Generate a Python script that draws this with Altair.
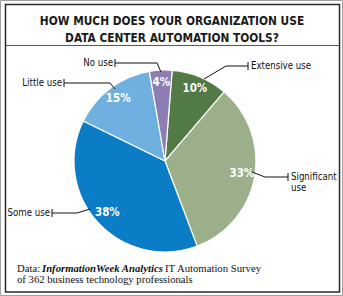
import math
import altair as alt
import pandas as pd

# ---- data ----
categories = ["Extensive use", "Significant use", "Some use", "Little use", "No use"]
values = [10, 33, 38, 15, 4]
pct_labels = ["10%", "33%", "38%", "15%", "4%"]
colors = ["#527a47", "#9caf8b", "#0a7dc6", "#70b0e0", "#8d7db3"]

title_lines = ["HOW MUCH DOES YOUR ORGANIZATION USE", "DATA CENTER AUTOMATION TOOLS?"]
footer_parts = ["Data: ", "InformationWeek Analytics", " IT Automation Survey"]
footer_line2 = "of 362 business technology professionals"

# ---- layout (annotation positions, pixels) ----
W, H = 343, 296
CX, CY, R = 165, 161, 91
OFFSET = math.radians(4.5)
SANS = "'DejaVu Sans Condensed', 'Liberation Sans Narrow', Roboto, sans-serif"
SERIF = "'Liberation Serif', serif"

df = pd.DataFrame({"category": categories, "value": values,
                   "label": pct_labels, "order": list(range(len(values)))})
one = pd.DataFrame({"k": [0]})

ext_labels = pd.DataFrame({
    "text": ["Extensive use", "Significant\nuse", "Some use", "Little use", "No use"],
    "x": [251, 291, 50, 62, 113],
    "y": [66, 177, 213, 83, 63],
    "align": ["left", "left", "right", "right", "right"],
})
leaders = pd.DataFrame({
    "cat": ["E", "E", "E", "S", "S", "S", "M", "M", "M", "L", "L", "L", "N", "N", "N"],
    "i":   [0, 1, 2] * 5,
    "x":   [248, 226, 204, 288, 265, 252, 52, 77, 90, 64, 110, 115, 115, 157, 161],
    "y":   [66, 66, 79, 177, 177, 172, 213, 213, 209, 83, 83, 89, 63, 63, 72],
})
ticks = pd.DataFrame({"x": [248, 288, 52, 64, 115], "y": [62, 173, 209, 79, 59],
                      "y2": [70, 181, 217, 87, 67]})

xs = alt.Scale(domain=[0, W], range=[0, W])
ys = alt.Scale(domain=[0, H], range=[0, H])

theta = alt.Theta("value:Q", stack=True,
                  scale=alt.Scale(range=[OFFSET, OFFSET + 2 * math.pi]))
color = alt.Color("category:N", scale=alt.Scale(domain=categories, range=colors), legend=None)

base = alt.Chart(df).encode(theta=theta, order=alt.Order("order:Q"))

pie = base.mark_arc(outerRadius=R, stroke="white", strokeWidth=1.2).encode(
    color=color, x=alt.value(CX), y=alt.value(CY))

pct = base.mark_text(radius=78, font=SANS, fontSize=11.5,
                     fontWeight="bold", color="white").encode(
    text="label:N", x=alt.value(CX), y=alt.value(CY))

leader = alt.Chart(leaders).mark_line(color="#111", strokeWidth=1).encode(
    x=alt.X("x:Q", scale=xs, axis=None), y=alt.Y("y:Q", scale=ys, axis=None),
    detail="cat:N", order="i:Q")

tick = alt.Chart(ticks).mark_rule(color="#111", strokeWidth=1).encode(
    x=alt.X("x:Q", scale=xs, axis=None), y=alt.Y("y:Q", scale=ys, axis=None), y2="y2:Q")

LFS = 9.6
ext_left = alt.Chart(ext_labels[ext_labels["align"] == "left"]).mark_text(
    align="left", baseline="middle", font=SANS, fontSize=LFS,
    color="#111", lineBreak="\n", lineHeight=11).encode(
    x=alt.X("x:Q", scale=xs, axis=None), y=alt.Y("y:Q", scale=ys, axis=None), text="text:N")
ext_right = alt.Chart(ext_labels[ext_labels["align"] == "right"]).mark_text(
    align="right", baseline="middle", font=SANS, fontSize=LFS,
    color="#111").encode(
    x=alt.X("x:Q", scale=xs, axis=None), y=alt.Y("y:Q", scale=ys, axis=None), text="text:N")

TFS = 11.8
title1 = alt.Chart(one).mark_text(text=title_lines[0], font=SANS,
                                  fontSize=TFS, fontWeight="bold", color="#1a1a1a",
                                  align="center", baseline="alphabetic").encode(
    x=alt.value(172), y=alt.value(25))
title2 = alt.Chart(one).mark_text(text=title_lines[1], font=SANS,
                                  fontSize=TFS, fontWeight="bold", color="#1a1a1a",
                                  align="center", baseline="alphabetic").encode(
    x=alt.value(172), y=alt.value(42))

red = alt.Chart(one).mark_rule(color="#b8294a", strokeWidth=1.2).encode(
    x=alt.value(6), x2=alt.value(339), y=alt.value(45.5))

outer = alt.Chart(one).mark_rect(fill=None, stroke="#a0a0a0", strokeWidth=1).encode(
    x=alt.value(0.5), x2=alt.value(342.5), y=alt.value(0.5), y2=alt.value(295.5))
inner = alt.Chart(one).mark_rect(fill=None, stroke="#2a2a2a", strokeWidth=1.5).encode(
    x=alt.value(5.5), x2=alt.value(339.5), y=alt.value(4.5), y2=alt.value(292))

FS = 10.7
f1 = alt.Chart(one).mark_text(text=footer_parts[0], font=SERIF, fontSize=FS, color="#111",
                              align="left", baseline="alphabetic").encode(
    x=alt.value(17), y=alt.value(272))
f2 = alt.Chart(one).mark_text(text=footer_parts[1], font=SERIF, fontSize=FS, color="#111",
                              fontWeight="bold", fontStyle="italic",
                              align="left", baseline="alphabetic").encode(
    x=alt.value(42), y=alt.value(272))
f3 = alt.Chart(one).mark_text(text=footer_parts[2], font=SERIF, fontSize=FS, color="#111",
                              align="left", baseline="alphabetic").encode(
    x=alt.value(165), y=alt.value(272))
f4 = alt.Chart(one).mark_text(text=footer_line2, font=SERIF, fontSize=FS, color="#111",
                              align="left", baseline="alphabetic").encode(
    x=alt.value(17), y=alt.value(283))

chart = alt.layer(outer, inner, red, title1, title2, pie, pct, leader, tick,
                  ext_left, ext_right, f1, f2, f3, f4).properties(
    width=W, height=H, autosize=alt.AutoSizeParams(type="none"), padding=0,
    background="white"
).configure_view(stroke=None)

chart.save("out.html", embed_options={"renderer": "svg", "actions": False})
